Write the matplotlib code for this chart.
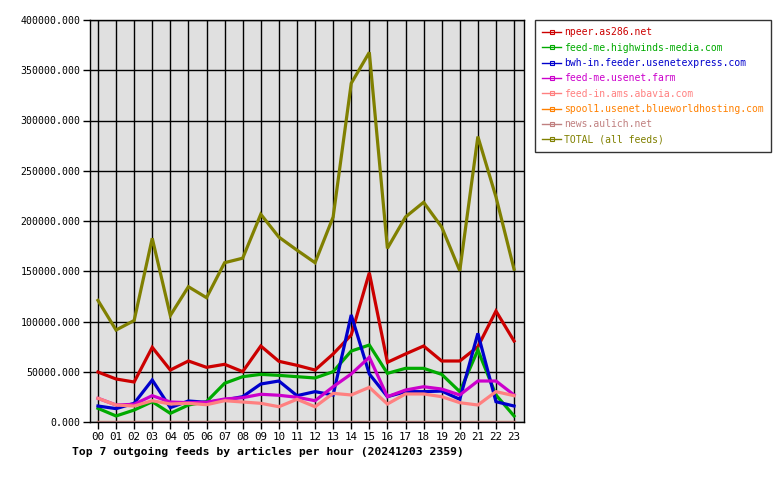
"""Top 7 outgoing feeds by articles per hour (20241203 2359)."""
import matplotlib
matplotlib.use("Agg")
import matplotlib.pyplot as plt
import numpy as np
from matplotlib.ticker import FuncFormatter, MultipleLocator

HORAS = ["%02d" % h for h in range(24)]

npeer = [49700, 42800, 39800, 74300, 51700, 60700, 54400, 57400, 50100, 75600, 60400, 56400,
         51700, 67700, 86600, 148500, 59400, 67700, 75600, 60700, 60700, 74900, 110400, 80600]
highwinds = [13600, 6000, 11900, 20200, 8600, 16900, 20200, 38500, 45100, 47400, 46400, 45100,
             43800, 50100, 70600, 76600, 48400, 53400, 53400, 47400, 30200, 71600, 26900, 6000]
usenetexpress = [15900, 13300, 18600, 41800, 14300, 20900, 19600, 21900, 25200, 37800, 40800, 26200,
                 30200, 26900, 106500, 47800, 25200, 30200, 30200, 30800, 22600, 88200, 20200, 15900]
usenetfarm = [23600, 16900, 17600, 26200, 19900, 19200, 19600, 22900, 24200, 27600, 26600, 24600,
              21200, 35100, 47800, 64400, 25200, 31800, 35100, 32800, 26900, 40800, 40800, 26900]
abavia = [23600, 16900, 15900, 21200, 17900, 18600, 17200, 21200, 19900, 18600, 15200, 22600,
          15200, 28500, 26900, 34500, 17900, 27900, 27900, 25200, 19200, 16900, 30200, 26200]
blueworld = [0] * 24
aulich = [0] * 24
total = [121000, 91500, 101000, 182800, 106000, 134600, 123700, 158500, 163000, 206700, 184000, 171000,
         158500, 204000, 337000, 367800, 172800, 204000, 218600, 194000, 150500, 284000, 224000, 152000]

SERIES = [
    ("npeer.as286.net", npeer, "#cc0000"),
    ("feed-me.highwinds-media.com", highwinds, "#00aa00"),
    ("bwh-in.feeder.usenetexpress.com", usenetexpress, "#0000cc"),
    ("feed-me.usenet.farm", usenetfarm, "#cc00cc"),
    ("feed-in.ams.abavia.com", abavia, "#ff8080"),
    ("spool1.usenet.blueworldhosting.com", blueworld, "#ff8000"),
    ("news.aulich.net", aulich, "#c08080"),
    ("TOTAL (all feeds)", total, "#808000"),
]

MONO = "DejaVu Sans Mono"

fig = plt.figure(figsize=(7.8, 4.8), dpi=100)
ax = fig.add_axes([90 / 780, 58 / 480, 434 / 780, 402 / 480])
ax.set_facecolor("#e0e0e0")

x = np.arange(24)
for nombre, vals, col in SERIES:
    ax.plot(x, vals, color=col, lw=2.3, label=nombre, solid_joinstyle="miter")

ax.set_xlim(-0.44, 23.55)
ax.set_ylim(0, 400000)
ax.yaxis.set_major_locator(MultipleLocator(50000))
ax.yaxis.set_major_formatter(FuncFormatter(lambda v, p: "%.3f" % v))
ax.set_xticks(x)
ax.set_xticklabels(HORAS, fontfamily=MONO, fontsize=7.8)
for t in ax.get_yticklabels():
    t.set_fontfamily(MONO)
    t.set_fontsize(7.1)
ax.tick_params(length=5, width=1, color="black", pad=2)
ax.grid(True, color="black", lw=1)
ax.set_axisbelow(True)
for s in ax.spines.values():
    s.set_linewidth(1)

# leyenda a la derecha
handles = [plt.Line2D([], [], color=c, lw=1, marker="s", markersize=3,
                      fillstyle="none", markeredgewidth=0.8) for _, _, c in SERIES]
leg = fig.legend(handles, [n for n, _, _ in SERIES], loc="upper left",
                 bbox_to_anchor=(535 / 780, 1 - 20 / 480), prop={"family": MONO, "size": 7.0},
                 frameon=True, fancybox=False, edgecolor="black", handlelength=1.9,
                 handletextpad=0.35, labelspacing=0.55, borderpad=0.75, borderaxespad=0)
leg.get_frame().set_linewidth(1)
for t, (_, _, c) in zip(leg.get_texts(), SERIES):
    t.set_color(c)

fig.text(72 / 780, 1 - 452 / 480, "Top 7 outgoing feeds by articles per hour (20241203 2359)",
         fontfamily=MONO, fontsize=8.2, fontweight="bold", va="center", ha="left")

fig.savefig("out.png", dpi=100)
